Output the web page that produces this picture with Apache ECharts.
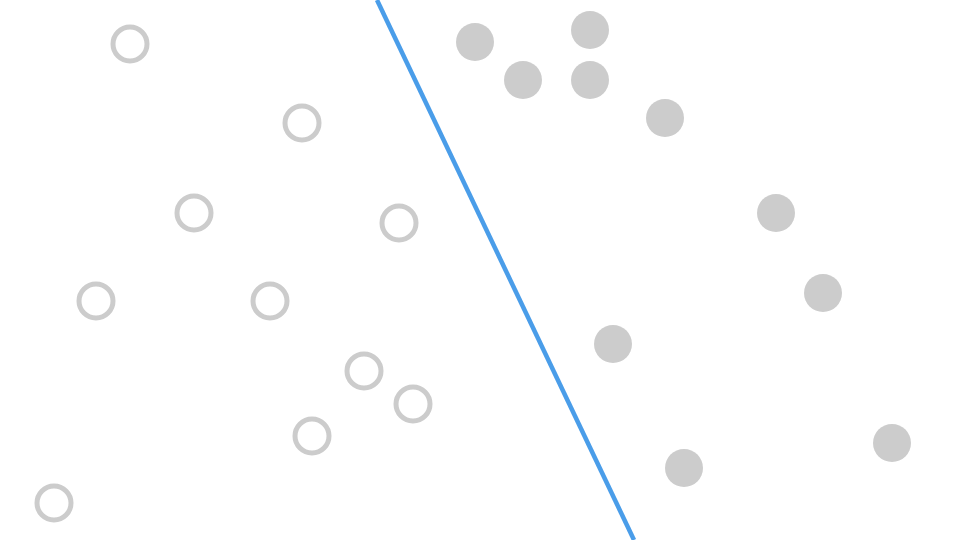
<!DOCTYPE html>
<html>
<head>
<meta charset="utf-8">
<script src="https://cdn.jsdelivr.net/npm/echarts@6/dist/echarts.min.js"></script>
<style>html,body{margin:0;padding:0;background:#fff}#c{width:960px;height:540px}</style>
</head>
<body>
<div id="c"></div>
<script>
// coordinates in chart units (x: 0..96, y: 0..54)
var classA = [[13.0,49.6],[30.2,41.7],[19.4,32.7],[39.9,31.7],[9.6,23.9],[27.0,23.9],[36.4,16.9],[41.3,13.6],[31.2,10.4],[5.4,3.7]];
var classB = [[47.5,49.8],[59.0,51.0],[52.3,46.0],[59.0,46.0],[66.5,42.2],[77.6,32.7],[82.3,24.7],[61.3,19.6],[89.2,9.7],[68.4,7.2]];
var boundary = [[37.7,54],[63.4,0]];

var chart = echarts.init(document.getElementById('c'));
chart.setOption({
  animation: false,
  grid: {left: 0, right: 0, top: 0, bottom: 0},
  xAxis: {type: 'value', min: 0, max: 96, show: false},
  yAxis: {type: 'value', min: 0, max: 54, show: false},
  series: [
    {type: 'scatter', data: classA, symbolSize: 34,
     itemStyle: {color: '#ffffff', borderColor: '#cccccc', borderWidth: 5, opacity: 1}},
    {type: 'scatter', data: classB, symbolSize: 38,
     itemStyle: {color: '#cccccc', opacity: 1}},
    {type: 'line', data: boundary, symbol: 'none', clip: true,
     lineStyle: {color: '#4a9de9', width: 4.5}}
  ]
});
</script>
</body>
</html>
